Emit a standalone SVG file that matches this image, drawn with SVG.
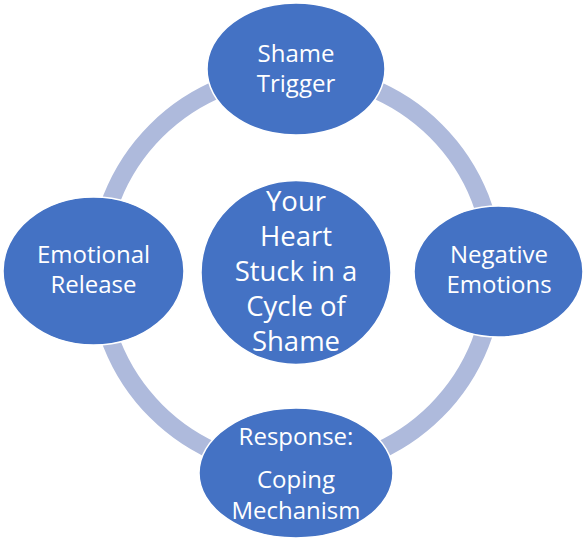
<svg xmlns="http://www.w3.org/2000/svg" width="586" height="544" viewBox="0 0 586 544">
<style>
.node{fill:#4472C4;stroke:#FFFFFF;stroke-width:1.5}
.ring{fill:none;stroke:#AEBADC;stroke-width:18}
.t{font-family:"Open Sans","Liberation Sans",sans-serif;font-size:24px;fill:#FFFFFF;text-anchor:middle}
.tc{font-size:27.5px}
</style>
<rect width="586" height="544" fill="#FFFFFF"/>
<g id="connectors">
<circle class="ring" cx="296" cy="271" r="198"/>
</g>
<g id="node-center">
<ellipse class="node" cx="296" cy="272.5" rx="95" ry="92"/>
<text class="t tc" x="296" y="210.5">Your</text>
<text class="t tc" x="296" y="245.7">Heart</text>
<text class="t tc" x="296" y="280.9">Stuck in a</text>
<text class="t tc" x="296" y="316.1">Cycle of</text>
<text class="t tc" x="296" y="351.3">Shame</text>
</g>
<g id="node-shame-trigger">
<ellipse class="node" cx="296" cy="69" rx="89" ry="66"/>
<text class="t" x="296" y="62">Shame</text>
<text class="t" x="296" y="92.2">Trigger</text>
</g>
<g id="node-negative-emotions">
<ellipse class="node" cx="498.5" cy="271.5" rx="84.5" ry="65.5"/>
<text class="t" x="499" y="263.3">Negative</text>
<text class="t" x="499" y="293.3">Emotions</text>
</g>
<g id="node-response">
<ellipse class="node" cx="296" cy="473" rx="97" ry="65"/>
<text class="t" x="296" y="445">Response:</text>
<text class="t" x="296" y="488.3">Coping</text>
<text class="t" x="296" y="518.5">Mechanism</text>
</g>
<g id="node-emotional-release">
<ellipse class="node" cx="93.5" cy="271" rx="90.5" ry="74"/>
<text class="t" x="93.5" y="263.3">Emotional</text>
<text class="t" x="93.5" y="293.3">Release</text>
</g>
</svg>
